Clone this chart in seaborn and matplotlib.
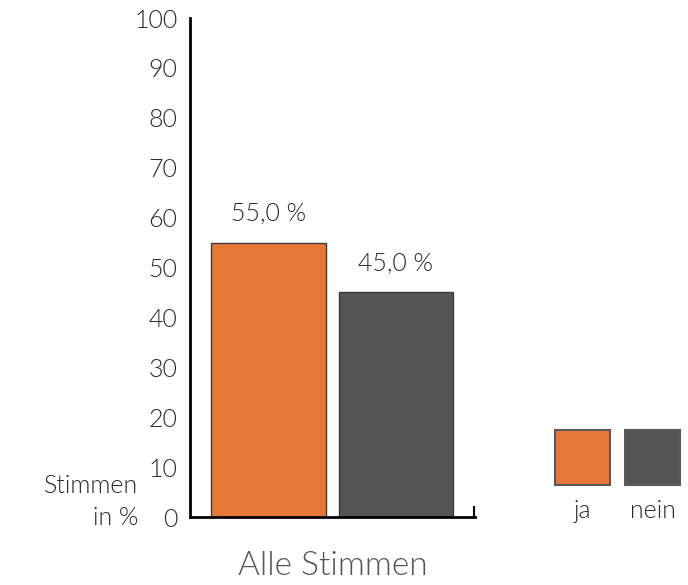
import matplotlib
matplotlib.use("Agg")
import matplotlib.pyplot as plt
from matplotlib.patches import Rectangle
import seaborn as sns
import pandas as pd

categories = ["ja", "nein"]
values = [55.0, 45.0]
colors = ["#E8773A", "#555555"]
yticks = [0, 10, 20, 30, 40, 50, 60, 70, 80, 90, 100]

sns.set_theme(style="white")
plt.rcParams["font.family"] = ["Lato", "DejaVu Sans"]
plt.rcParams["font.weight"] = 300
plt.rcParams["axes.labelweight"] = 300

df = pd.DataFrame({"antwort": categories, "prozent": values})

fig = plt.figure(figsize=(6.88, 5.85), dpi=100)
ax = fig.add_axes([0.2762, 0.1162, 0.4142, 0.853])

sns.barplot(
    data=df, x="antwort", y="prozent", hue="antwort",
    palette=colors, saturation=1, width=0.9, edgecolor="#3a3a3a", linewidth=1,
    legend=False, ax=ax
)

ax.set_ylim(0, 100)
ax.set_xlim(-0.616, 1.62)
ax.set_yticks(yticks)
ax.set_yticklabels([str(t) for t in yticks], fontsize=18, color="#2a2a2a")
ax.tick_params(axis="y", left=False, length=0, pad=9)
ax.set_xticks([1.61])
ax.set_xticklabels([""])
ax.tick_params(axis="x", bottom=True, direction="in", length=8, width=1.5, color="black")

for s in ["top", "right"]:
    ax.spines[s].set_visible(False)
for s in ["left", "bottom"]:
    ax.spines[s].set_color("black")
    ax.spines[s].set_linewidth(2)

for i, v in enumerate(values):
    ax.text(i, v + 3.3, f"{v:.1f} %".replace(".", ","), ha="center", va="bottom",
            fontsize=18, color="#2a2a2a")

ax.set_xlabel("Alle Stimmen", fontsize=24, color="#555555", labelpad=21)
ax.set_ylabel("")
fig.text(138 / 688, 1 - 530 / 585, "Stimmen\nin %", ha="right", va="bottom",
         multialignment="right", fontsize=18, color="#2a2a2a", linespacing=1.4)

# legend: squares with labels below
for i, (lab, col) in enumerate(zip(categories, colors)):
    x0 = (555 + 70 * i) / 688
    fig.patches.append(Rectangle((x0, 1 - 485 / 585), 55 / 688, 55 / 585,
                                 transform=fig.transFigure, facecolor=col,
                                 edgecolor="#5a5a5a", linewidth=1.5))
    fig.text(x0 + 27.5 / 688, 1 - 511 / 585, lab, ha="center", va="center",
             fontsize=18, color="#2a2a2a")

fig.savefig("out.png", dpi=100)
